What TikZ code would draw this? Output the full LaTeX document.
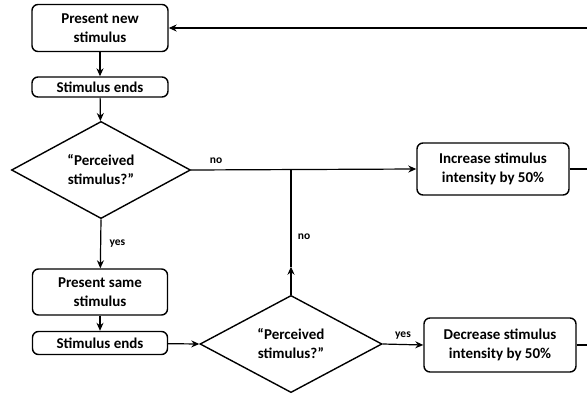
\documentclass[tikz,border=0pt]{standalone}
\usepackage{fontspec}
\setmainfont{Carlito}
\usetikzlibrary{arrows.meta,shapes.geometric,calc}

\begin{document}
\begin{tikzpicture}[x=1pt,y=-1pt,>={Stealth[length=8pt,width=7pt]},
  box/.style={draw,line width=1.4pt,rounded corners=6pt,align=center,inner sep=0pt,font=\fontsize{15}{19}\selectfont\bfseries},
  choice/.style={draw,line width=1.4pt,diamond,inner sep=0pt,align=center,font=\fontsize{15}{19}\selectfont\bfseries},
  lbl/.style={font=\fontsize{11.5}{13}\selectfont\bfseries},
  link/.style={line width=1.2pt}]
\useasboundingbox (0,0) rectangle (587,394);
% left column
\node[box,minimum width=136pt,minimum height=47pt] (newStim) at (100,28) {Present new\\stimulus};
\node[box,minimum width=136pt,minimum height=20pt] (ends1) at (100,87) {Stimulus ends};
\node[choice,minimum width=179pt,minimum height=96pt] (ask1) at (101,170) {“Perceived\\stimulus?”};
\node[box,minimum width=135pt,minimum height=46pt] (sameStim) at (100,292) {Present same\\stimulus};
\node[box,minimum width=135pt,minimum height=23pt] (ends2) at (100,343) {Stimulus ends};
\node[choice,minimum width=182pt,minimum height=96pt] (ask2) at (291,344) {“Perceived\\stimulus?”};
% right column
\node[box,minimum width=152pt,minimum height=52pt] (incr) at (493,169) {Increase stimulus\\intensity by 50\%};
\node[box,minimum width=152pt,minimum height=54pt] (decr) at (500,345) {Decrease stimulus\\intensity by 50\%};
% helper points
\coordinate (join) at (ask2.north |- ask1.east);
\coordinate (upMid) at ($(ask2.north)+(0,-28)$);
\coordinate (edgeTop) at (587,28);
\coordinate (edgeIncr) at (587,169);
\coordinate (edgeDecr) at (587,345);
% connectors
\draw[->,link] (newStim) -- (ends1);
\draw[->,link] (ends1) -- (ask1);
\draw[->,link] (ask1.south) -- node[lbl,right=5pt] {yes} (sameStim);
\draw[->,link] (sameStim) -- (ends2);
\draw[->,link] (ends2) -- (ask2.west);
\draw[->,link] (ask1.east) -- (incr.west);
\node[lbl] (noTop) at (216,161) {no};
\draw[->,link] (ask2.north) -- (upMid);
\draw[link] (upMid) -- (join);
\node[lbl] (noMid) at (304,237) {no};
\draw[->,link] (ask2.east) -- node[lbl,above=1pt] {yes} (decr.west);
\draw[link] (incr.east) -- (edgeIncr);
\draw[link] (decr.east) -- (edgeDecr);
\draw[->,link] (edgeTop) -- (newStim.east);
\end{tikzpicture}
\end{document}
